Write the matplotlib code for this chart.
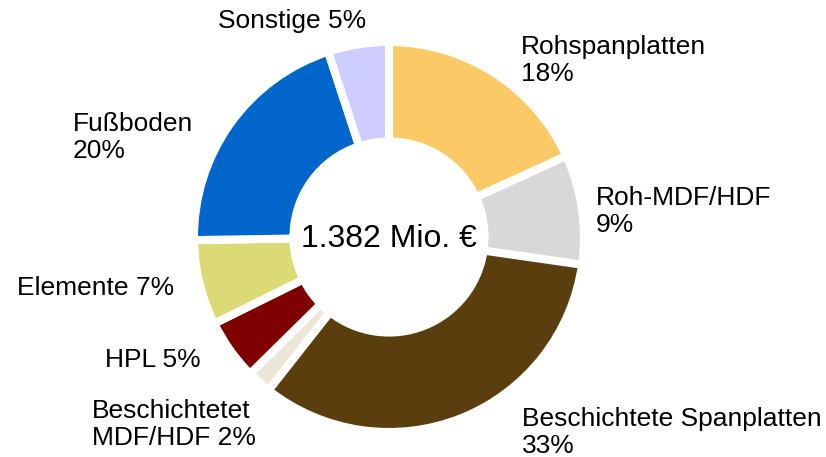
import matplotlib
matplotlib.use("Agg")
import matplotlib.pyplot as plt

# segments clockwise from 12 o'clock
labels = ['Rohspanplatten', 'Roh-MDF/HDF', 'Beschichtete Spanplatten',
          'Beschichtetet MDF/HDF', 'HPL', 'Elemente', 'Fußboden', 'Sonstige']
shares = [18, 9, 33, 2, 5, 7, 20, 5]
colors = ['#FBCA66', '#D8D8D8', '#5A3E0D', '#EAE6D8', '#7F0000', '#DCDA74', '#0066CC', '#CCCCFF']
label_texts = ['Rohspanplatten\n18%', 'Roh-MDF/HDF\n9%', 'Beschichtete Spanplatten\n33%',
               'Beschichtetet\nMDF/HDF 2%', 'HPL 5%', 'Elemente 7%', 'Fußboden\n20%', 'Sonstige 5%']
total_text = '1.382 Mio. €'

plt.rcParams['font.family'] = ['Liberation Sans', 'DejaVu Sans']

W, H = 826, 457
fig = plt.figure(figsize=(W / 100, H / 100), dpi=100)

cx, cy, r = 389, 237, 195
ax = fig.add_axes([(cx - r) / W, (H - cy - r) / H, 2 * r / W, 2 * r / H])
ax.pie(shares, colors=colors, startangle=90, counterclock=False,
       wedgeprops=dict(width=0.51, edgecolor='white', linewidth=5.8))
ax.set_xlim(-1, 1)
ax.set_ylim(-1, 1)
ax.set_aspect('equal')
ax.axis('off')

ax.text(0, -0.05, total_text, ha='center', va='baseline', fontsize=23)

# label anchor points in pixels (left x, baseline of last line)
label_pos = [(521, 81), (596, 232), (522, 453),
             (92, 445), (105, 367), (17, 295),
             (73, 158), (218, 28)]
for txt, (px, py) in zip(label_texts, label_pos):
    fig.text(px / W, 1 - py / H, txt, ha='left', va='baseline', fontsize=19,
             linespacing=1.15, multialignment='left')

fig.savefig('out.png', dpi=100)
